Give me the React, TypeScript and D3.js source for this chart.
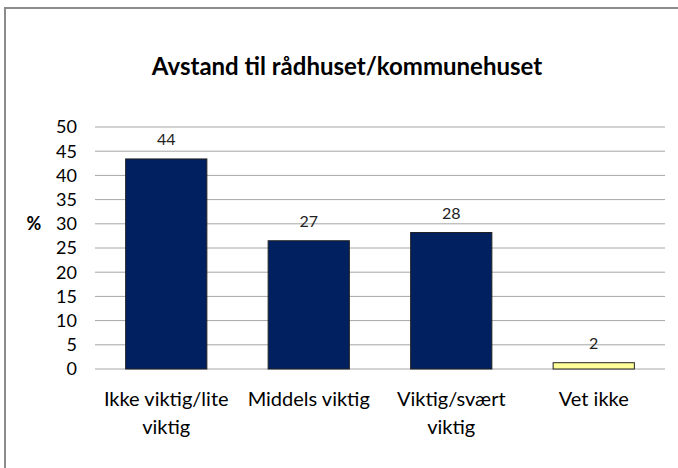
import React, { useEffect, useRef } from 'react';
import * as d3 from 'd3';

const categories = ['Ikke viktig/lite viktig', 'Middels viktig', 'Viktig/svært viktig', 'Vet ikke'];
const categoryLines = [['Ikke viktig/lite', 'viktig'], ['Middels viktig'], ['Viktig/svært', 'viktig'], ['Vet ikke']];
const values = [43.4, 26.5, 28.2, 1.3];
const valueLabels = ['44', '27', '28', '2'];
const barColors = ['#002060', '#002060', '#002060', '#FFFF99'];
const yTicks = [0, 5, 10, 15, 20, 25, 30, 35, 40, 45, 50];

const FONT = 'Lato, "Open Sans", sans-serif';

const App = () => {
  const svgRef = useRef<SVGSVGElement>(null);

  useEffect(() => {
    const svgWidth = 678;
    const svgHeight = 468;
    const plot = { left: 95, right: 665, top: 127, bottom: 369 };

    const svg = d3.select(svgRef.current)
      .attr('width', svgWidth)
      .attr('height', svgHeight)
      .style('position', 'absolute')
      .style('left', '0px')
      .style('top', '0px')
      .style('background', '#fff');

    svg.selectAll('*').remove();

    // chart border (runs off to the right and bottom)
    svg.append('rect')
      .attr('x', 5)
      .attr('y', 8)
      .attr('width', 690)
      .attr('height', 480)
      .attr('fill', 'none')
      .attr('stroke', '#8c8c8c')
      .attr('stroke-width', 2);

    // title
    svg.append('text')
      .attr('x', 347)
      .attr('y', 75)
      .attr('text-anchor', 'middle')
      .attr('font-family', FONT)
      .attr('font-weight', 'bold')
      .attr('font-size', 24)
      .attr('fill', '#000')
      .text('Avstand til rådhuset/kommunehuset');

    const x = d3.scaleBand()
      .domain(categories)
      .range([plot.left, plot.right])
      .paddingInner(0.43)
      .paddingOuter(0.215);

    const y = d3.scaleLinear()
      .domain([0, 50])
      .range([plot.bottom, plot.top]);

    // gridlines
    svg.append('g')
      .selectAll('line')
      .data(yTicks)
      .join('line')
      .attr('x1', plot.left)
      .attr('x2', plot.right)
      .attr('y1', d => y(d))
      .attr('y2', d => y(d))
      .attr('stroke', '#a6a6a6')
      .attr('stroke-width', 1);

    // y tick labels
    svg.append('g')
      .selectAll('text')
      .data(yTicks)
      .join('text')
      .attr('x', 77)
      .attr('y', d => y(d))
      .attr('dy', '0.36em')
      .attr('text-anchor', 'end')
      .attr('font-family', FONT)
      .attr('font-size', 18)
      .attr('fill', '#000')
      .text(d => d);

    // y axis title
    svg.append('text')
      .attr('x', 34)
      .attr('y', y(30))
      .attr('dy', '0.36em')
      .attr('text-anchor', 'middle')
      .attr('font-family', FONT)
      .attr('font-weight', 'bold')
      .attr('font-size', 18)
      .attr('fill', '#000')
      .text('%');

    // bars
    svg.append('g')
      .selectAll('rect')
      .data(values)
      .join('rect')
      .attr('x', (d, i) => x(categories[i]))
      .attr('y', d => y(d))
      .attr('width', x.bandwidth())
      .attr('height', d => y(0) - y(d))
      .attr('fill', (d, i) => barColors[i])
      .attr('stroke', '#222')
      .attr('stroke-width', 1);

    // value labels
    svg.append('g')
      .selectAll('text')
      .data(values)
      .join('text')
      .attr('x', (d, i) => x(categories[i]) + x.bandwidth() / 2)
      .attr('y', d => y(d) - 14)
      .attr('text-anchor', 'middle')
      .attr('font-family', FONT)
      .attr('font-size', 16)
      .attr('fill', '#222')
      .text((d, i) => valueLabels[i]);

    // category labels
    const cat = svg.append('g')
      .selectAll('text')
      .data(categories)
      .join('text')
      .attr('x', d => x(d) + x.bandwidth() / 2)
      .attr('y', 406)
      .attr('text-anchor', 'middle')
      .attr('font-family', FONT)
      .attr('font-size', 20)
      .attr('fill', '#000');

    cat.selectAll('tspan')
      .data((d, i) => categoryLines[i])
      .join('tspan')
      .attr('x', function () {
        return (this.parentNode as SVGTextElement).getAttribute('x');
      })
      .attr('dy', (d, i) => (i === 0 ? 0 : 28))
      .text(d => d);
  }, []);

  return <svg ref={svgRef}></svg>;
};

export default App;
